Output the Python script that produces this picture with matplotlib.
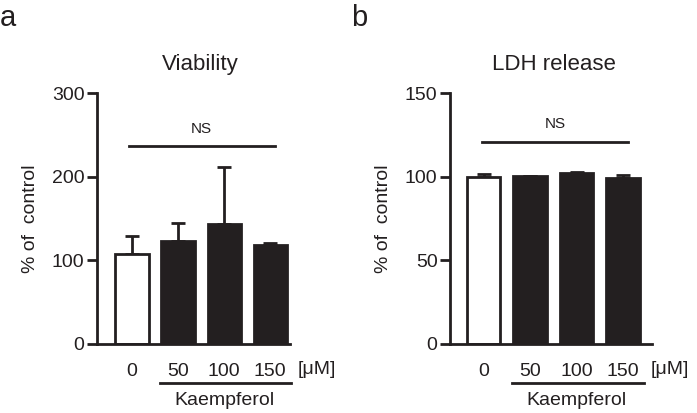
import matplotlib
matplotlib.use('Agg')
from matplotlib import pyplot as plt
from matplotlib import transforms as mtrans

plt.rcParams['font.family'] = ['Liberation Sans', 'DejaVu Sans']
plt.rcParams['font.size'] = 14

doses = ['0', '50', '100', '150']

viab_mean = [108, 123, 143, 118]
viab_err = [21, 22, 68, 3]

ldh_mean = [100, 100.3, 102, 99.2]
ldh_err = [1.5, 0, 0.8, 2.0]

bar_colors = ['white', '#231f20', '#231f20', '#231f20']

fig = plt.figure(figsize=(6.97, 4.13), dpi=100)

ax1 = fig.add_axes([97 / 697, 69 / 413, 193 / 697, 251 / 413])
ax2 = fig.add_axes([450 / 697, 69 / 413, 202 / 697, 251 / 413])


def panel(ax, means, errs, ymax, step, title, title_x, ns_y, xlim, ns_x):
    x = list(range(len(means)))
    ax.bar(x, means, width=0.72, color=bar_colors, edgecolor='#231f20', linewidth=2, zorder=2)
    ax.errorbar(x, means, yerr=[[0] * len(errs), errs], fmt='none', ecolor='#231f20',
                elinewidth=2, capsize=5, capthick=2, zorder=1)
    ax.set_ylim(0, ymax)
    ax.set_xlim(*xlim)
    ax.set_yticks(range(0, ymax + 1, step))
    ax.set_xticks(x)
    ax.set_xticklabels(doses)
    ax.spines['top'].set_visible(False)
    ax.spines['right'].set_visible(False)
    ax.spines['left'].set_linewidth(2)
    ax.spines['bottom'].set_linewidth(2)
    ax.spines['left'].set_color('#231f20')
    ax.spines['bottom'].set_color('#231f20')
    ax.tick_params(axis='y', width=2, length=7, pad=2, colors='#231f20')
    ax.tick_params(axis='x', length=0, pad=14, colors='#231f20')
    ax.set_ylabel('% of  control', labelpad=9, color='#231f20')
    ax.text(title_x, 1.09, title, transform=ax.transAxes, ha='center', va='baseline',
            fontsize=16, color='#231f20')

    # NS bracket
    ax.plot([ns_x[0], ns_x[1]], [ns_y, ns_y], color='#231f20', lw=2, clip_on=False)
    ax.text((ns_x[0] + ns_x[1]) / 2, ns_y + (ymax * 0.04), 'NS', ha='center', va='bottom',
            fontsize=11, color='#231f20')

    tr = mtrans.blended_transform_factory(ax.transData, ax.transAxes)
    ax.plot([0.61, 3.45], [-0.155, -0.155], color='#231f20', lw=2, transform=tr, clip_on=False)
    ax.text(2.0, -0.225, 'Kaempferol', ha='center', va='center', transform=tr, color='#231f20')
    ax.text(3.6, -0.1, '[μM]', ha='left', va='center', transform=tr, color='#231f20')


panel(ax1, viab_mean, viab_err, 300, 100, 'Viability', 0.535, 237, (-0.76, 3.43), (-0.07, 3.1))
panel(ax2, ldh_mean, ldh_err, 150, 50, 'LDH release', 0.515, 121, (-0.72, 3.62), (-0.03, 3.1))

fig.text(0 / 697, 1 - 18 / 413, 'a', fontsize=21, va='center', ha='left', color='#231f20')
fig.text(351 / 697, 1 - 18 / 413, 'b', fontsize=21, va='center', ha='left', color='#231f20')

fig.savefig('out.png', dpi=100)
